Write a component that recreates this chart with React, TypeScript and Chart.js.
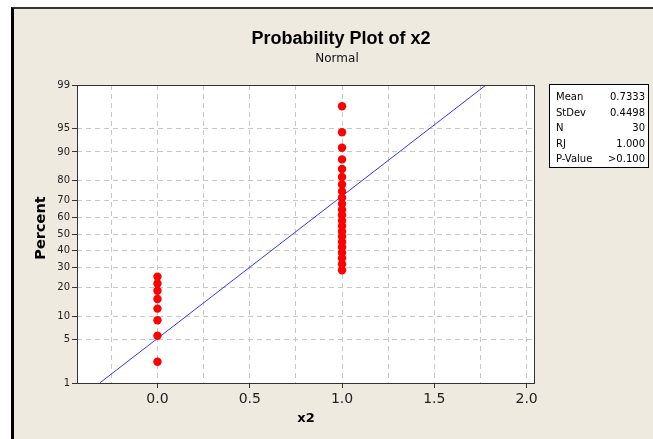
import React, { useEffect, useRef } from "react";
import { Chart, registerables } from "chart.js";

Chart.register(...registerables);

// ---- data ----
const x2Values = [0, 0, 0, 0, 0, 0, 0, 0, 1, 1, 1, 1, 1, 1, 1, 1, 1, 1, 1, 1, 1, 1, 1, 1, 1, 1, 1, 1, 1, 1];
const percentValues = [
  2.3, 5.6, 8.9, 12.2, 15.5, 18.8, 22.0, 25.3, 28.6, 31.9, 35.2, 38.5, 41.8, 45.1, 48.4,
  51.6, 54.9, 58.2, 61.5, 64.8, 68.1, 71.4, 74.7, 78.0, 81.3, 84.5, 87.8, 91.1, 94.4, 97.7,
];
const fitLineX = [-0.313, 1.78];
const fitLinePercent = [1, 99];
const yTickPercents = [1, 5, 10, 20, 30, 40, 50, 60, 70, 80, 90, 95, 99];
const xGridValues = [-0.25, 0, 0.25, 0.5, 0.75, 1, 1.25, 1.5, 1.75, 2];
const xLabelValues = [0, 0.5, 1, 1.5, 2];
const xMin = -0.436;
const xMax = 2.04;
const statLabels = ["Mean", "StDev", "N", "RJ", "P-Value"];
const statValues = ["0.7333", "0.4498", "30", "1.000", ">0.100"];
const titleText = "Probability Plot of x2";
const subtitleText = "Normal";
const xTitleText = "x2";
const yTitleText = "Percent";

// inverse standard normal CDF (Acklam)
function invNorm(p: number): number {
  const a = [-3.969683028665376e1, 2.209460984245205e2, -2.759285104469687e2, 1.38357751867269e2, -3.066479806614716e1, 2.506628277459239];
  const b = [-5.447609879822406e1, 1.615858368580409e2, -1.556989798598866e2, 6.680131188771972e1, -1.328068155288572e1];
  const c = [-7.784894002430293e-3, -3.223964580411365e-1, -2.400758277161838, -2.549732539343734, 4.374664141464968, 2.938163982698783];
  const d = [7.784695709041462e-3, 3.224671290700398e-1, 2.445134137142996, 3.754408661907416];
  const pl = 0.02425;
  let q: number, r: number;
  if (p < pl) {
    q = Math.sqrt(-2 * Math.log(p));
    return (((((c[0] * q + c[1]) * q + c[2]) * q + c[3]) * q + c[4]) * q + c[5]) / ((((d[0] * q + d[1]) * q + d[2]) * q + d[3]) * q + 1);
  } else if (p <= 1 - pl) {
    q = p - 0.5;
    r = q * q;
    return ((((((a[0] * r + a[1]) * r + a[2]) * r + a[3]) * r + a[4]) * r + a[5]) * q) / (((((b[0] * r + b[1]) * r + b[2]) * r + b[3]) * r + b[4]) * r + 1);
  } else {
    q = Math.sqrt(-2 * Math.log(1 - p));
    return -(((((c[0] * q + c[1]) * q + c[2]) * q + c[3]) * q + c[4]) * q + c[5]) / ((((d[0] * q + d[1]) * q + d[2]) * q + d[3]) * q + 1);
  }
}

const decorPlugin = {
  id: "decor",
  beforeDraw(chart: any) {
    const { ctx, chartArea } = chart;
    ctx.save();
    ctx.fillStyle = "#ffffff";
    ctx.fillRect(chartArea.left, chartArea.top, chartArea.right - chartArea.left, chartArea.bottom - chartArea.top);
    ctx.restore();
  },
  afterDraw(chart: any) {
    const { ctx, chartArea } = chart;
    ctx.save();
    // plot border
    ctx.strokeStyle = "#333333";
    ctx.lineWidth = 1;
    ctx.setLineDash([]);
    const l = Math.round(chartArea.left) + 0.5;
    const t = Math.round(chartArea.top) + 0.5;
    const r = Math.round(chartArea.right) + 0.5;
    const b = Math.round(chartArea.bottom) + 0.5;
    ctx.strokeRect(l, t, r - l, b - t);

    // titles
    ctx.fillStyle = "#000000";
    ctx.textAlign = "center";
    ctx.textBaseline = "alphabetic";
    ctx.font = 'bold 18px "Liberation Sans", Arial, sans-serif';
    ctx.fillText(titleText, 341, 44);
    ctx.font = '12px "DejaVu Sans", sans-serif';
    ctx.fillStyle = "#111111";
    ctx.fillText(subtitleText, 337, 62);

    // x title
    ctx.fillStyle = "#000000";
    ctx.font = 'bold 13px "DejaVu Sans", sans-serif';
    ctx.fillText(xTitleText, 306, 422);

    // y title
    ctx.save();
    ctx.translate(45, 228);
    ctx.rotate(-Math.PI / 2);
    ctx.font = 'bold 14.5px "DejaVu Sans", sans-serif';
    ctx.fillText(yTitleText, 0, 0);
    ctx.restore();

    // stats box
    ctx.fillStyle = "#ffffff";
    ctx.fillRect(549.5, 84.5, 99, 83);
    ctx.strokeStyle = "#000000";
    ctx.strokeRect(549.5, 84.5, 99, 83);
    ctx.fillStyle = "#000000";
    ctx.font = '10px "DejaVu Sans", sans-serif';
    statLabels.forEach((lab, i) => {
      const y = 100 + i * 15.5;
      ctx.textAlign = "left";
      ctx.fillText(lab, 556, y);
      ctx.textAlign = "right";
      ctx.fillText(statValues[i], 645, y);
    });
    ctx.restore();
  },
};

export default function App() {
  const canvasRef = useRef<HTMLCanvasElement | null>(null);

  useEffect(() => {
    const canvas = canvasRef.current;
    if (!canvas) return;
    const zMin = invNorm(yTickPercents[0] / 100);
    const zMax = invNorm(yTickPercents[yTickPercents.length - 1] / 100);
    const pointData = x2Values.map((x, i) => ({ x, y: invNorm(percentValues[i] / 100) }));
    const lineData = fitLineX.map((x, i) => ({ x, y: invNorm(fitLinePercent[i] / 100) }));

    const chart = new Chart(canvas, {
      type: "scatter",
      data: {
        datasets: [
          {
            data: pointData,
            backgroundColor: "#ff0000",
            borderColor: "#ff0000",
            borderWidth: 0,
            pointRadius: 4.2,
            pointHoverRadius: 4.2,
          },
          {
            data: lineData,
            showLine: true,
            borderColor: "#3535ff",
            borderWidth: 1,
            pointRadius: 0,
            pointHoverRadius: 0,
            fill: false,
          } as any,
        ],
      },
      options: {
        responsive: false,
        animation: false,
        devicePixelRatio: 1,
        layout: { padding: { left: 0, right: 119, top: 85, bottom: 0 } },
        plugins: {
          legend: { display: false },
          tooltip: { enabled: false },
          title: { display: false },
        },
        scales: {
          x: {
            type: "linear",
            min: xMin,
            max: xMax,
            afterBuildTicks: (s: any) => {
              s.ticks = xGridValues.map((v) => ({ value: v }));
            },
            afterFit: (s: any) => {
              s.height = 56;
            },
            ticks: {
              autoSkip: false,
              maxRotation: 0,
              padding: 3,
              color: "#222222",
              font: { family: "DejaVu Sans", size: 14 },
              callback: (v: any) => (xLabelValues.includes(Number(v)) ? Number(v).toFixed(1) : ""),
            },
            grid: {
              color: "#c8c8c8",
              lineWidth: 1,
              tickLength: 5,
              tickColor: (ctx: any) =>
                ctx.tick && xLabelValues.includes(ctx.tick.value) ? "#333333" : "rgba(0,0,0,0)",
            },
            border: { display: false, dash: [5, 4] },
          },
          y: {
            type: "linear",
            min: zMin,
            max: zMax,
            afterBuildTicks: (s: any) => {
              s.ticks = yTickPercents.map((p) => ({ value: invNorm(p / 100) }));
            },
            afterFit: (s: any) => {
              s.width = 77;
            },
            ticks: {
              autoSkip: false,
              padding: 2,
              color: "#222222",
              font: { family: "DejaVu Sans", size: 10 },
              callback: (_v: any, i: number) => String(yTickPercents[i]),
            },
            grid: {
              color: "#c8c8c8",
              lineWidth: 1,
              tickLength: 5,
              tickColor: "#333333",
            },
            border: { display: false, dash: [5, 4] },
          },
        },
      },
      plugins: [decorPlugin],
    });
    return () => chart.destroy();
  }, []);

  return (
    <div
      style={{
        position: "fixed",
        left: 0,
        top: 0,
        width: 653,
        height: 439,
        background: "#ffffff",
        overflow: "hidden",
      }}
    >
      <div
        style={{
          position: "absolute",
          left: 11,
          top: 7,
          width: 700,
          height: 500,
          background: "#EEEAE0",
          borderLeft: "3px solid #000000",
          borderTop: "2px solid #333333",
        }}
      />
      <canvas
        ref={canvasRef}
        width={653}
        height={439}
        style={{ position: "absolute", left: 0, top: 0, width: 653, height: 439 }}
      />
    </div>
  );
}
